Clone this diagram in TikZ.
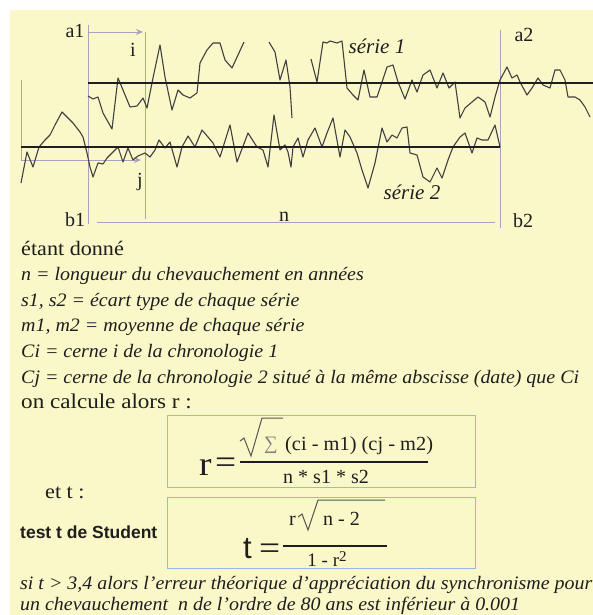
\documentclass[tikz,border=0pt]{standalone}
\usepackage{fontspec}
\setmainfont{Liberation Serif}
\newfontfamily\sansf{Liberation Sans}
\usetikzlibrary{arrows.meta}
\definecolor{bg}{RGB}{250,247,200}
\definecolor{guide}{RGB}{168,162,188}
\definecolor{boxc}{RGB}{150,185,228}
\definecolor{ink}{RGB}{30,30,30}
\newcommand\sx[1]{\scalebox{1.05}[1]{#1}}
\newcommand\sxu[1]{\scalebox{1.08}[1]{#1}}
\tikzset{
  guideline/.style={draw=guide, line width=0.8pt},
  guidearrow/.style={draw=guide, line width=0.8pt, -{Stealth[length=7pt,width=6pt]}},
  series/.style={draw=ink!85, line width=1.1pt, line join=round},
  meanline/.style={draw=ink, line width=2.4pt},
  lbl/.style={inner sep=0pt, text=ink, font=\fontsize{20}{20}\selectfont},
  ilbl/.style={inner sep=0pt, text=ink, font=\fontsize{21}{21}\selectfont\itshape},
  txt/.style={inner sep=0pt, anchor=base west, text=ink, font=\fontsize{20.5}{22}\selectfont},
  itxt/.style={txt, font=\fontsize{19}{22}\selectfont\itshape},
  fbox/.style={draw=boxc, line width=0.9pt, minimum width=308pt, inner sep=0pt},
  ftxt/.style={inner sep=0pt, anchor=base, text=ink, font=\fontsize{20}{20}\selectfont},
  big/.style={inner sep=0pt, anchor=base west, text=ink, font=\fontsize{34}{34}\selectfont},
  fbar/.style={draw=ink, line width=1.2pt},
  radical/.style={draw=ink!75, line width=1pt, line join=miter},
}
\begin{document}
\begin{tikzpicture}[x=1pt,y=-1pt]
\useasboundingbox (0,0) rectangle (593,615);
\fill[white] (0,0) rectangle (593,615);
\fill[bg] (10,10) rectangle (593,615);

% ---- guide lines ----
\coordinate (a1top) at (88,25);
\coordinate (b1bot) at (88,224);
\coordinate (itop) at (88,32);
\coordinate (ihead) at (143,32);
\coordinate (ijtop) at (145,32);
\coordinate (ijbot) at (145,219);
\coordinate (ltop) at (21,80);
\coordinate (lbot) at (21,160);
\coordinate (jhead) at (141,160);
\coordinate (nl) at (97,222);
\coordinate (nr) at (495,222);
\coordinate (a2top) at (500,30);
\coordinate (b2bot) at (500,228);
\draw[guideline] (a1top) -- (b1bot);
\draw[guideline] (ijtop) -- (ijbot);
\draw[guideline] (ltop) -- (lbot);
\draw[guideline] (nl) -- (nr);
\draw[guideline] (a2top) -- (b2bot);
\draw[guidearrow] (itop) -- (ihead);
\draw[guidearrow] (lbot) -- (jhead);

% ---- mean lines ----
\coordinate (m1l) at (88,83);
\coordinate (m1r) at (593,83);
\coordinate (m2l) at (21,147);
\coordinate (m2r) at (500,147);

% ---- series 1 ----
\draw[series] plot coordinates {(88,96) (93,99) (98,97) (103,113) (112,129) (118,78) (123,90) (130,107) (137,106) (143,98) (147,108) (153,78) (160,45) (165,77) (172,110) (178,90) (183,95) (190,98) (197,93) (200,63) (207,50) (213,43) (220,43) (225,60) (232,68) (238,55) (244,42)};
\draw[series] plot coordinates {(269,42) (275,52) (280,80) (286,60) (290,87) (292,118)};
\draw[series] plot coordinates {(311,59) (317,82) (323,42) (327,43) (330,41) (337,43) (342,41) (347,88) (353,95) (358,100) (364,70) (370,97) (377,97) (382,82) (387,67) (393,65) (398,82) (405,99) (412,80) (417,92) (423,75) (430,70) (437,88) (443,73) (449,88) (455,82) (460,118) (465,108) (472,102) (478,97) (485,102) (490,117) (495,97) (500,80) (507,67) (512,78) (517,75) (520,82) (527,95) (532,88) (538,78) (543,85) (550,88) (555,70) (560,70) (565,80) (568,97) (575,97) (580,100) (585,107) (590,117)};

% ---- series 2 ----
\draw[series] plot coordinates {(21,183) (27,152) (33,167) (39,147) (45,140) (50,135) (55,125) (62,112) (67,117) (73,123) (80,132) (83,137) (87,153) (90,167) (93,177) (98,163) (103,164) (107,158) (112,153) (118,147) (123,162) (128,148) (133,160) (138,156) (145,153) (150,157) (155,150) (159,140) (165,148) (170,142) (177,167) (182,147) (188,136) (195,147) (202,130) (208,137) (213,143) (220,157) (230,125) (237,162) (248,133) (257,147) (263,150) (268,167) (274,115) (280,150) (285,145) (288,152) (291,167) (293,147) (298,138) (303,157) (308,140) (315,128) (322,147) (327,133) (333,118) (340,157) (345,130) (350,137) (357,153) (362,170) (368,188) (375,163) (382,128) (387,142) (392,135) (397,138) (402,128) (407,127) (410,153) (417,155) (423,177) (430,182) (437,168) (442,178) (448,160) (453,147) (460,137) (465,133) (472,153) (477,138) (482,140) (488,140) (495,125) (500,147)};

\draw[meanline] (m1l) -- (m1r);
\draw[meanline] (m2l) -- (m2r);

% ---- chart labels ----
\node[lbl] (la1) at (75,31) {a1};
\node[lbl] (li) at (133,50) {i};
\node[lbl] (lj) at (140,182) {j};
\node[lbl] (lb1) at (75,220) {b1};
\node[lbl] (ln) at (284,217) {n};
\node[lbl] (la2) at (524,35) {a2};
\node[lbl] (lb2) at (523,221) {b2};
\node[ilbl] (ls1) at (377,46) {série 1};
\node[ilbl] (ls2) at (412,192) {série 2};

% ---- text block ----
\node[txt] (t1) at (21,255) {\sxu{étant donné}};
\node[itxt] (t2) at (21,280.5) {\sx{n = longueur du chevauchement en années}};
\node[itxt] (t3) at (21,306) {\sx{s1, s2 = écart type de chaque série}};
\node[itxt] (t4) at (21,331.5) {\sx{m1, m2 = moyenne de chaque série}};
\node[itxt] (t5) at (21,357) {\sx{Ci = cerne i de la chronologie 1}};
\node[itxt] (t6) at (21,383) {\sx{Cj = cerne de la chronologie 2 situé à la même abscisse (date) que Ci}};
\node[txt, font=\fontsize{21}{22}\selectfont] (t7) at (21,408) {\scalebox{1.1}[1]{on calcule alors r :}};

% ---- formula box 1 ----
\node[fbox, minimum height=72pt] (box1) at (321,451) {};
\node[big] (r1) at (199,475) {\scalebox{1.1}[1]{r}};
\node[big] (eq1) at (215,473) {\scalebox{1.1}[1]{=}};
\draw[radical] (240,441) -- (244,438) -- (251,456) -- (262,418) -- (283,418);
\node[inner sep=0pt, anchor=base west, text=ink!55, font=\fontsize{19}{19}\selectfont] (sum1) at (264,449) {∑};
\node[ftxt, anchor=base west] (num1) at (285,450) {\scalebox{1.02}[1]{(ci - m1) (cj - m2)}};
\draw[fbar] (240,462) -- (428,462);
\node[ftxt] (den1) at (326,483) {n * s1 * s2};

% ---- et t ----
\node[txt] (t8) at (45,498) {\sxu{et t :}};

% ---- formula box 2 ----
\node[fbox, minimum height=71pt] (box2) at (321,532.5) {};
\node[inner sep=0pt, anchor=base west, text=ink, font=\sansf\fontsize{31}{31}\selectfont] (t9) at (243,558) {t};
\node[big] (eq2) at (259,559) {\scalebox{1.1}[1]{=}};
\node[ftxt, anchor=base west] (rr) at (289,525) {r};
\draw[radical] (298,517) -- (302,514) -- (308,530) -- (318,500) -- (385,500);
\node[ftxt, anchor=base west] (num2) at (323,525) {n - 2};
\draw[fbar] (283,546) -- (387,546);
\node[ftxt, font=\fontsize{19}{19}\selectfont] (den2) at (327,566) {1 - r\raisebox{4.5pt}{\fontsize{15}{15}\selectfont 2}};

\node[inner sep=0pt, anchor=base west, text=ink, font=\sansf\bfseries\fontsize{17.5}{17.5}\selectfont] (stud) at (20,538) {test t de Student};

% ---- conclusion ----
\node[itxt] (t10) at (20,589) {\sx{si t > 3,4 alors l'erreur théorique d'appréciation du synchronisme pour}};
\node[itxt] (t11) at (20,610) {\sx{un chevauchement\ \ n de l'ordre de 80 ans est inférieur à 0.001}};
\end{tikzpicture}
\end{document}
